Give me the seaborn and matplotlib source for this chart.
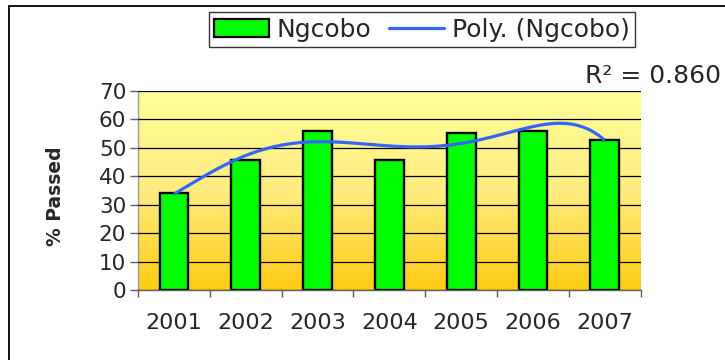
import numpy as np
import matplotlib
matplotlib.use("Agg")
import matplotlib.pyplot as plt
from matplotlib.colors import LinearSegmentedColormap
from matplotlib.patches import Patch, Rectangle
from matplotlib.lines import Line2D
import seaborn as sns

# Pass rates per year
years = ["2001", "2002", "2003", "2004", "2005", "2006", "2007"]
passed = [34.0, 45.8, 55.9, 45.7, 55.3, 56.0, 52.9]
series_name = "Ngcobo"
trend_name = "Poly. (Ngcobo)"
trend_order = 5
r_squared_text = "R² = 0.860"
y_ticks = [0, 10, 20, 30, 40, 50, 60, 70]

sns.set_style("white")
plt.rcParams["font.family"] = ["DejaVu Sans"]

fig = plt.figure(figsize=(7.25, 3.6), dpi=100)
ax = fig.add_axes([138 / 725, 1 - 290 / 360, 502.7 / 725, 199 / 360])

# Yellow-to-gold vertical gradient behind the bars
grad = LinearSegmentedColormap.from_list("bg", ["#FFCC11", "#FFEC80", "#FFFF99"])
ax.imshow(np.linspace(0, 1, 256).reshape(-1, 1), cmap=grad, origin="lower",
          extent=[-0.5, len(years) - 0.5, 0, 70], aspect="auto", zorder=0)

sns.barplot(x=years, y=passed, color="#00FF00", saturation=1, width=0.4,
            edgecolor="black", linewidth=1.7, ax=ax, zorder=3)

# Polynomial trendline through the bar values
xi = np.arange(len(years))
coef = np.polyfit(xi, passed, trend_order)
xs = np.linspace(0, len(years) - 1, 300)
ax.plot(xs, np.polyval(coef, xs), color="#3366FF", lw=2.3, zorder=4,
        solid_capstyle="butt")

ax.set_xlim(-0.5, len(years) - 0.5)
ax.set_ylim(0, 70)
ax.set_yticks(y_ticks)
ax.yaxis.grid(True, color="black", lw=0.9)
ax.set_axisbelow(False)
for line in ax.get_ygridlines():
    line.set_zorder(1)

for side in ("top", "right"):
    ax.spines[side].set_visible(False)
ax.spines["left"].set_color("#9A9A9A")
ax.spines["left"].set_linewidth(1.0)
ax.spines["bottom"].set_color("#606060")
ax.spines["bottom"].set_linewidth(1.0)

ax.tick_params(axis="y", direction="out", length=6, width=1, color="#606060",
               pad=2.5, labelsize=15.5, left=True)
ax.tick_params(axis="x", which="major", length=0, pad=16.5, labelsize=16)
ax.set_xticks(np.arange(-0.5, len(years), 1.0), minor=True)
ax.tick_params(axis="x", which="minor", direction="out", length=5, width=1,
               color="#606060", bottom=True)

ax.set_xlabel("")
ax.set_ylabel("% Passed", fontsize=13.5, fontweight="bold")
ax.yaxis.set_label_coords(-0.145, 0.47)

handles = [Patch(facecolor="#00FF00", edgecolor="black", lw=1.6),
           Line2D([0], [0], color="#3366FF", lw=2.3)]
leg = fig.legend(handles, [series_name, trend_name], loc="upper center",
                 bbox_to_anchor=(422 / 725, 1 - 12 / 360), ncol=2,
                 fontsize=18, frameon=True, fancybox=False, handlelength=2.2,
                 handleheight=0.7, handletextpad=0.3, columnspacing=0.7,
                 borderpad=0.22, borderaxespad=0)
leg.get_frame().set_edgecolor("black")
leg.get_frame().set_linewidth(1.0)

fig.text(721 / 725, 1 - 83 / 360, r_squared_text, ha="right", va="baseline",
         fontsize=18)

# Outer chart frame
fig.patches.append(Rectangle((9 / 725, -0.2), 1.2, 1.2 - 5.5 / 360,
                             transform=fig.transFigure, fill=False,
                             edgecolor="black", lw=1.3, clip_on=False))

fig.savefig("out.png", dpi=100)
